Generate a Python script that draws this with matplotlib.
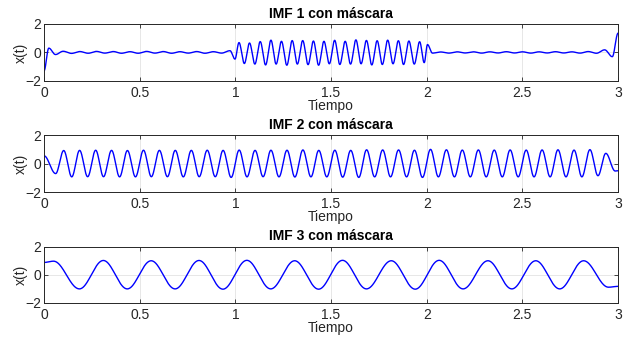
import numpy as np
import matplotlib
matplotlib.use("Agg")
import matplotlib.pyplot as plt

# =========================
# Extrema (time, value)
# =========================
imf1_t = [0.000, 0.025, 0.060,
          0.100, 0.144, 0.187, 0.231, 0.274, 0.318, 0.362, 0.405, 0.449, 0.492,
          0.536, 0.580, 0.623, 0.667, 0.710, 0.754, 0.798, 0.841, 0.885, 0.928,
          0.972, 0.998,
          1.019, 1.047, 1.074, 1.102, 1.130, 1.158, 1.186, 1.213, 1.241, 1.269,
          1.297, 1.324, 1.352, 1.380, 1.408, 1.435, 1.463, 1.491, 1.519, 1.546,
          1.574, 1.602, 1.630, 1.657, 1.685, 1.713, 1.741, 1.768, 1.796, 1.824,
          1.852, 1.879, 1.907, 1.935, 1.963, 1.987, 2.004,
          2.030, 2.073, 2.116, 2.159, 2.201, 2.244, 2.287, 2.330, 2.373, 2.416,
          2.459, 2.501, 2.544, 2.587, 2.630, 2.673, 2.716, 2.759, 2.801, 2.844,
          2.887, 2.930, 2.970, 3.000]
imf1_v = [-1.30, 0.30, -0.15,
          0.08, -0.07, 0.06, -0.06, 0.07, -0.05, 0.06, -0.06, 0.05, -0.06,
          0.07, -0.05, 0.06, -0.06, 0.05, -0.05, 0.06, -0.06, 0.05, -0.05,
          0.12, -0.47,
          0.69, -0.78, 0.66, -0.82, 0.76, -0.88, 0.86, -0.82, 0.78, -0.90,
          0.83, -0.82, 0.83, -0.86, 0.80, -0.90, 0.78, -0.80, 0.85, -0.85,
          0.78, -0.82, 0.88, -0.80, 0.84, -0.88, 0.82, -0.85, 0.86, -0.80,
          0.82, -0.85, 0.80, -0.82, 0.75, -0.72, 0.55,
          -0.05, 0.03, -0.05, 0.04, -0.04, 0.04, -0.05, 0.04, -0.04, 0.05,
          -0.04, 0.04, -0.05, 0.04, -0.04, 0.05, -0.04, 0.04, -0.05, 0.06,
          -0.06, 0.18, -0.30, 1.35]

imf2_t = [0.000, 0.061,
          0.103, 0.145, 0.186, 0.228, 0.270, 0.311, 0.353, 0.395, 0.436, 0.478,
          0.520, 0.561, 0.603, 0.645, 0.686, 0.728, 0.770, 0.811, 0.853, 0.895,
          0.936, 0.978, 1.020, 1.061, 1.103, 1.145, 1.186, 1.228, 1.270, 1.311,
          1.353, 1.395, 1.436, 1.478, 1.520, 1.561, 1.603, 1.645, 1.686, 1.728,
          1.770, 1.811, 1.853, 1.895, 1.936, 1.978, 2.020, 2.061, 2.103, 2.145,
          2.186, 2.228, 2.270, 2.311, 2.353, 2.395, 2.436, 2.478, 2.520, 2.561,
          2.603, 2.645, 2.686, 2.728, 2.770, 2.811, 2.853, 2.895, 2.936, 2.985,
          3.000]
imf2_v = [0.55, -0.70,
          0.92, -0.93, 0.93, -0.92, 0.94, -0.92, 0.93, -0.93, 0.92, -0.93,
          0.94, -0.92, 0.93, -0.92, 0.93, -0.93, 0.93, -0.92, 0.94, -0.92,
          0.93, -0.97, 0.95, -0.93, 0.93, -0.92, 0.94, -0.93, 0.94, -0.94,
          0.96, -0.93, 0.93, -0.93, 0.94, -0.95, 0.93, -0.97, 0.97, -0.93,
          0.96, -0.93, 0.96, -0.93, 0.94, -0.97, 1.00, -0.93, 0.97, -0.93,
          0.95, -0.93, 0.96, -0.93, 0.95, -0.93, 0.96, -0.93, 0.95, -0.93,
          0.96, -0.93, 0.97, -0.93, 0.95, -0.93, 0.98, -0.85, 0.72, -0.52,
          -0.50]

imf3_t = [0.000, 0.050, 0.185, 0.310, 0.435, 0.560, 0.685, 0.810, 0.935,
          1.060, 1.185, 1.310, 1.435, 1.560, 1.685, 1.815, 1.940, 2.065,
          2.190, 2.320, 2.445, 2.570, 2.695, 2.820, 2.950, 3.000]
imf3_v = [0.88, 0.97, -1.00, 1.02, -1.00, 1.00, -1.00, 1.02, -1.02,
          1.03, -1.00, 1.00, -1.02, 1.03, -1.00, 1.00, -1.02, 1.03,
          -1.00, 1.00, -1.00, 1.00, -1.00, 1.00, -0.88, -0.82]

titles = ["IMF 1 con máscara", "IMF 2 con máscara", "IMF 3 con máscara"]
xticks = [0, 0.5, 1, 1.5, 2, 2.5, 3]
xtick_labels = ["0", "0.5", "1", "1.5", "2", "2.5", "3"]
yticks = [-2, 0, 2]


def smooth_through_extrema(t_ext, v_ext, n=60):
    # half-cosine segments between consecutive extrema
    t_ext = np.asarray(t_ext)
    v_ext = np.asarray(v_ext)
    ts, vs = [], []
    for i in range(len(t_ext) - 1):
        s = np.linspace(0, 1, n, endpoint=False)
        w = (1 - np.cos(np.pi * s)) / 2
        ts.append(t_ext[i] + (t_ext[i + 1] - t_ext[i]) * s)
        vs.append(v_ext[i] + (v_ext[i + 1] - v_ext[i]) * w)
    ts.append([t_ext[-1]])
    vs.append([v_ext[-1]])
    return np.concatenate(ts), np.concatenate(vs)


plt.rcParams["font.family"] = ["Liberation Sans", "DejaVu Sans"]

fig = plt.figure(figsize=(6.26, 3.37), dpi=100)
positions = [
    [0.0703, 0.760, 0.917, 0.169],
    [0.0703, 0.430, 0.917, 0.169],
    [0.0703, 0.101, 0.917, 0.167],
]
series = [(imf1_t, imf1_v), (imf2_t, imf2_v), (imf3_t, imf3_v)]

for pos, (t_ext, v_ext), title in zip(positions, series, titles):
    ax = fig.add_axes(pos)
    t, v = smooth_through_extrema(t_ext, v_ext)
    ax.plot(t, v, color="#0000ff", linewidth=1.0)
    ax.set_xlim(0, 3)
    ax.set_ylim(-2, 2)
    ax.set_xticks(xticks)
    ax.set_xticklabels(xtick_labels)
    ax.set_yticks(yticks)
    ax.grid(True, color="#e3e3e3", linewidth=0.6)
    ax.set_axisbelow(True)
    ax.tick_params(direction="in", length=3, width=0.6, labelsize=10,
                   colors="#262626", top=True, right=True)
    ax.tick_params(axis="x", pad=3.5)
    ax.tick_params(axis="y", pad=2)
    for sp in ax.spines.values():
        sp.set_color("#262626")
        sp.set_linewidth(0.7)
    ax.set_title(title, fontsize=10, fontweight="bold", pad=4.5)
    ax.set_xlabel("Tiempo", fontsize=10, labelpad=-0.5, color="#262626")
    ax.set_ylabel("x(t)", fontsize=10, labelpad=-2, color="#262626")

fig.savefig("out.png", dpi=100)
